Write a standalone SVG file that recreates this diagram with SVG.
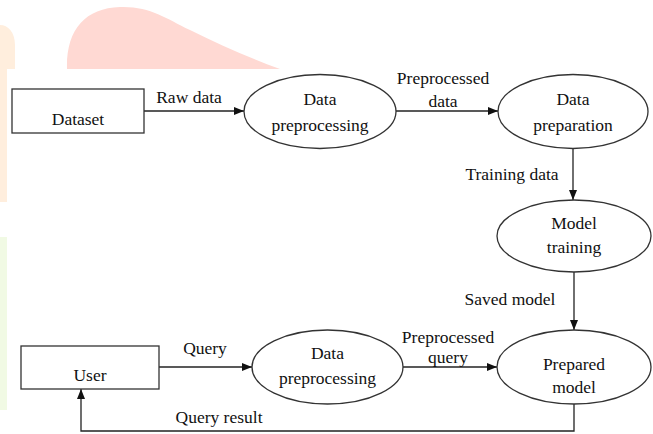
<svg xmlns="http://www.w3.org/2000/svg" width="653" height="434" viewBox="0 0 653 434">
<style>
.nd{fill:none;stroke:#333;stroke-width:1.3}
.t{font-family:'Liberation Serif','DejaVu Serif','Times New Roman',Times,serif;font-size:17.5px;fill:#111;text-anchor:middle}
.c{fill:none;stroke:#222;stroke-width:1.3}
</style>
<defs>
<marker id="ah" viewBox="0 0 10 8" refX="10" refY="4" markerWidth="10" markerHeight="8" markerUnits="userSpaceOnUse" orient="auto">
<path d="M0,0 L10,4 L0,8 z" fill="#111"/>
</marker>
</defs>
<rect width="653" height="434" fill="#fff"/>
<g id="watermark">
<path d="M67,69 C66,30 85,8 120,7 C150,6 165,18 190,30 C220,45 250,58 280,69 Z" fill="#FFD9D3"/>
<path d="M0,25 C8,25 15,32 15,45 L15,69 L7,69 L7,202 L0,202 Z" fill="#FFEEDD"/>
<rect x="0" y="237" width="7" height="173" fill="#F1FAE4"/>
</g>
<g id="connectors">
<line class="c" x1="144" y1="111" x2="244" y2="111" marker-end="url(#ah)"/>
<text class="t" x="189" y="103">Raw data</text>
<line class="c" x1="396" y1="111" x2="498" y2="111" marker-end="url(#ah)"/>
<text class="t" x="443" y="84">Preprocessed</text>
<text class="t" x="443" y="107">data</text>
<line class="c" x1="573" y1="148" x2="573" y2="200" marker-end="url(#ah)"/>
<text class="t" x="512" y="180">Training data</text>
<line class="c" x1="574" y1="272" x2="574" y2="330" marker-end="url(#ah)"/>
<text class="t" x="510" y="305">Saved model</text>
<line class="c" x1="159" y1="367" x2="252" y2="367" marker-end="url(#ah)"/>
<text class="t" x="205" y="354">Query</text>
<line class="c" x1="403" y1="367" x2="497" y2="367" marker-end="url(#ah)"/>
<text class="t" x="448" y="343">Preprocessed</text>
<text class="t" x="448" y="363">query</text>
<polyline class="c" points="574,404 574,431 81,431 81,389" marker-end="url(#ah)"/>
<text class="t" x="219" y="423">Query result</text>
</g>
<g id="dataset">
<rect class="nd" x="12" y="89" width="132" height="44"/>
<text class="t" x="78" y="125">Dataset</text>
</g>
<g id="preprocessing1">
<ellipse class="nd" cx="320" cy="111.5" rx="76" ry="37"/>
<text class="t" x="320" y="105">Data</text>
<text class="t" x="320" y="131">preprocessing</text>
</g>
<g id="preparation">
<ellipse class="nd" cx="573" cy="111.5" rx="75" ry="37"/>
<text class="t" x="573" y="105">Data</text>
<text class="t" x="573" y="131">preparation</text>
</g>
<g id="training">
<ellipse class="nd" cx="574" cy="236" rx="77" ry="36"/>
<text class="t" x="574" y="229">Model</text>
<text class="t" x="574" y="253">training</text>
</g>
<g id="user">
<rect class="nd" x="21" y="346" width="138" height="43"/>
<text class="t" x="90" y="381">User</text>
</g>
<g id="preprocessing2">
<ellipse class="nd" cx="327.5" cy="367" rx="75.5" ry="37"/>
<text class="t" x="327.5" y="359">Data</text>
<text class="t" x="327.5" y="384">preprocessing</text>
</g>
<g id="prepared">
<ellipse class="nd" cx="574" cy="367" rx="77" ry="37"/>
<text class="t" x="574" y="370">Prepared</text>
<text class="t" x="574" y="393">model</text>
</g>
</svg>
